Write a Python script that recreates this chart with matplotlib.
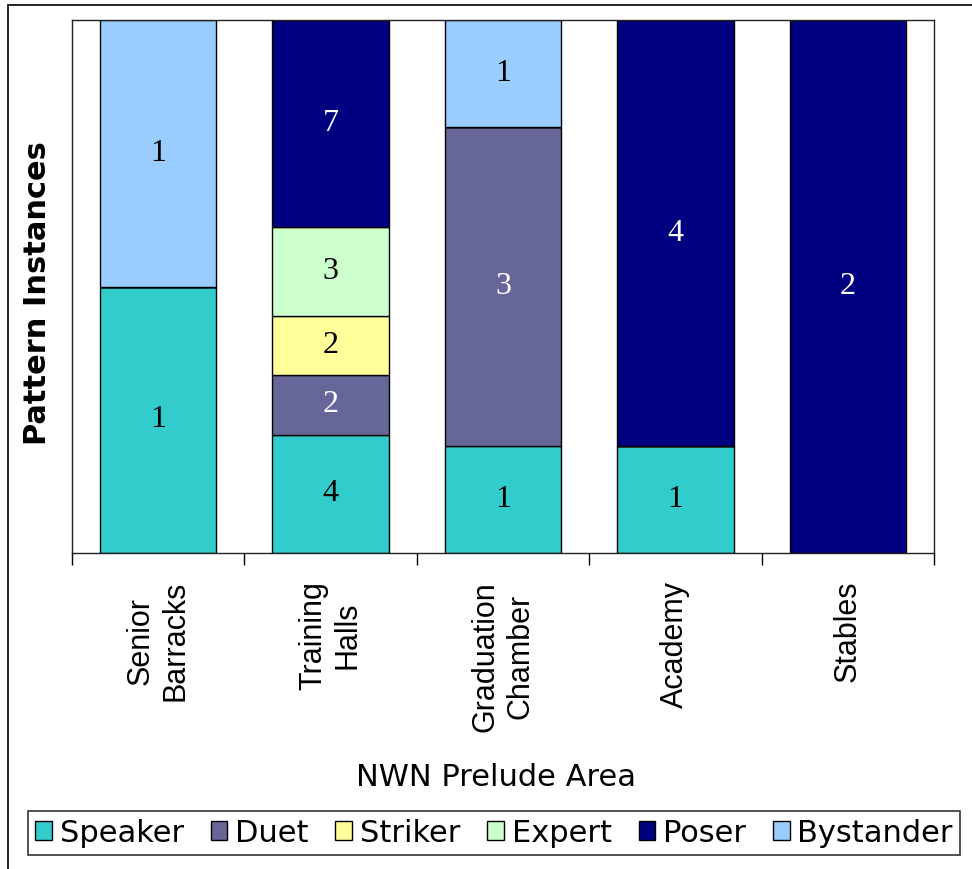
import numpy as np
import matplotlib
matplotlib.use('Agg')
import matplotlib.pyplot as plt
from matplotlib.patches import Rectangle

# data: pattern instance counts per area
areas = ['Senior\nBarracks', 'Training\nHalls', 'Graduation\nChamber', 'Academy', 'Stables']
patterns = ['Speaker', 'Duet', 'Striker', 'Expert', 'Poser', 'Bystander']
speaker = [1, 4, 1, 1, 0]
duet = [0, 2, 3, 0, 0]
striker = [0, 2, 0, 0, 0]
expert = [0, 3, 0, 0, 0]
poser = [0, 7, 0, 4, 2]
bystander = [1, 0, 1, 0, 0]
colors = ['#33CCCC', '#666699', '#FFFF99', '#CCFFCC', '#000080', '#99CCFF']
text_colors = ['black', 'white', 'black', 'black', 'white', 'black']

counts = np.array([speaker, duet, striker, expert, poser, bystander], dtype=float)
totals = counts.sum(axis=0)
shares = counts / totals * 100

fig = plt.figure(figsize=(9.72, 8.69), dpi=100)
ax = fig.add_axes([72/972, 1-553/869, (934-72)/972, (553-20)/869])

x = np.arange(len(areas))
bottom = np.zeros(len(areas))
for i, name in enumerate(patterns):
    bars = ax.bar(x, shares[i], 0.675, bottom=bottom, color=colors[i],
                  edgecolor='black', linewidth=1, label=name)
    for j, b in enumerate(bars):
        if counts[i, j] > 0:
            ax.text(b.get_x() + b.get_width()/2, bottom[j] + shares[i, j]/2,
                    '%d' % counts[i, j], ha='center', va='center',
                    fontsize=23, family='Liberation Serif', color=text_colors[i])
    bottom += shares[i]

ax.set_xlim(-0.5, len(areas) - 0.5)
ax.set_ylim(0, 100)
ax.set_yticks([])
ax.set_xticks(x)
ax.set_xticklabels(areas, rotation=90, fontsize=22, family='Liberation Sans',
                   multialignment='center')
ax.tick_params(axis='x', which='major', length=0, pad=20)
ax.set_xticks(np.arange(-0.5, len(areas)), minor=True)
ax.tick_params(axis='x', which='minor', length=8.5, width=1, direction='out')
for s in ax.spines.values():
    s.set_linewidth(1)
    s.set_color('#222222')

fig.text(38/972, 1-293/869, 'Pattern Instances', rotation=90, ha='center',
         va='center', fontsize=22, fontweight='bold')
fig.text(496/972, 1-777/869, 'NWN Prelude Area', ha='center', va='center',
         fontsize=22)

leg = fig.legend(loc='center', bbox_to_anchor=(494/972, 1-833/869), ncol=6,
                 fontsize=22, frameon=True, fancybox=False, edgecolor='black',
                 handlelength=0.55, handleheight=0.55, handletextpad=0.25,
                 columnspacing=0.88, borderpad=0.25, borderaxespad=0)
leg.get_frame().set_linewidth(1.2)

# outer chart border
fig.add_artist(Rectangle((8/972, -0.1), 1.2, 1.1 - 5/869, transform=fig.transFigure,
                         fill=False, edgecolor='black', linewidth=1.2))

fig.savefig('out.png', dpi=100)
